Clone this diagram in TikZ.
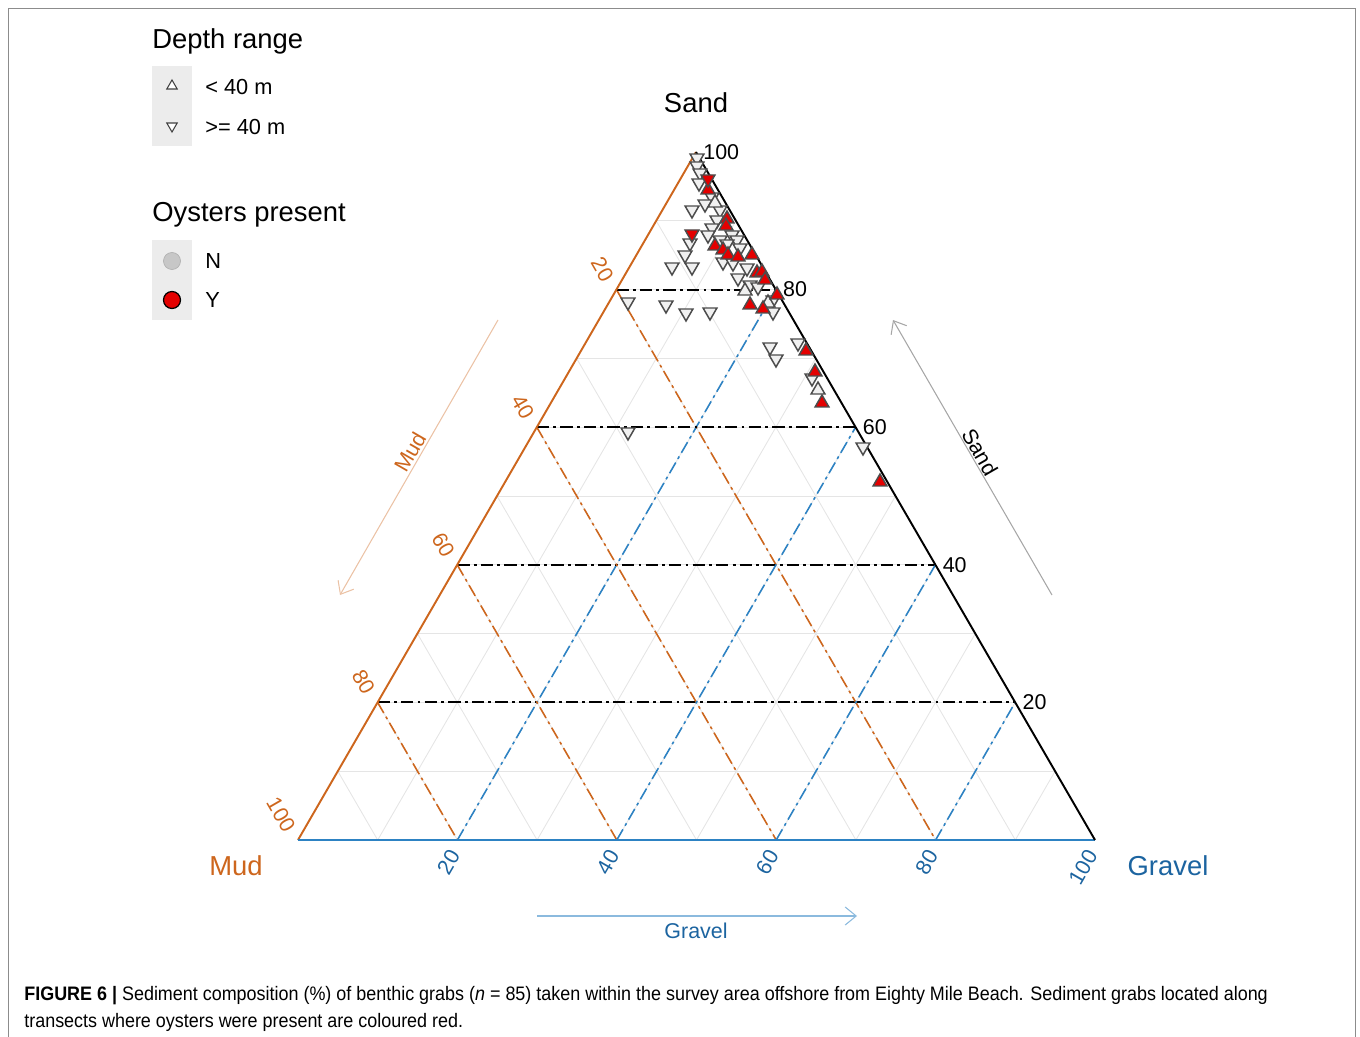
\documentclass[tikz,border=0pt]{standalone}
\usepackage{fontspec}
\setmainfont{Liberation Sans}
\newfontfamily\capfont[FakeStretch=0.92]{Liberation Sans}
\usetikzlibrary{shapes.geometric,arrows.meta}
\definecolor{mudcol}{RGB}{205,102,29}
\definecolor{gravcol}{RGB}{28,100,160}
\definecolor{gravline}{RGB}{45,130,195}
\definecolor{keybg}{RGB}{236,236,236}
\definecolor{ptred}{RGB}{228,0,0}
\begin{document}
\begin{tikzpicture}[x=0.02cm, y=-0.02cm,
    title/.style={font=\fontsize{15.6}{18}\selectfont, inner sep=0pt},
    item/.style={font=\fontsize{12.4}{14}\selectfont, inner sep=0pt, anchor=west},
    tick/.style={font=\fontsize{12.2}{14}\selectfont, inner sep=1pt},
    grid/.style={black!10, line width=0.5pt},
    dashdot/.style={line width=1.1pt, dash pattern=on 7pt off 2.4pt on 1.6pt off 2.4pt},
    arr/.style={-{Straight Barb[length=0.22cm, width=0.36cm]}, line width=0.6pt},
    mk/.style={regular polygon, regular polygon sides=3, minimum size=0.32cm,
        inner sep=0pt, line width=0.85pt, draw=black!70, fill=black!6},
    up/.style={mk},
    dn/.style={mk, shape border rotate=180},
    yes/.style={fill=ptred, draw=black!70},
    key/.style={regular polygon, regular polygon sides=3, minimum size=0.24cm,
        inner sep=0pt, line width=0.6pt, draw=black!75, fill=white}
]
    \useasboundingbox (0,0) rectangle (1360,1037);
    \draw[black!45, line width=0.5pt] (8,1037) -- (8,8) -- (1355,8) -- (1355,1037);

    % Corners of the triangle
    \coordinate (M) at (298,840);
    \coordinate (G) at (1095,840);
    \coordinate (S) at (696,152);

    % Light grid every 10 %
    \foreach \p [evaluate=\p as \a using \p/100, evaluate=\p as \b using 1-\p/100] in {10,20,...,90} {
        \draw[grid] (barycentric cs:M=\b,S=\a) -- (barycentric cs:G=\b,S=\a);
        \draw[grid] (barycentric cs:M=\a,S=\b) -- (barycentric cs:M=\a,G=\b);
        \draw[grid] (barycentric cs:G=\a,M=\b) -- (barycentric cs:G=\a,S=\b);
    }

    % Major lines every 20 %
    \foreach \p [evaluate=\p as \a using \p/100, evaluate=\p as \b using 1-\p/100] in {20,40,60,80} {
        \draw[dashdot, black] (barycentric cs:M=\b,S=\a) -- (barycentric cs:G=\b,S=\a);
        \draw[dashdot, mudcol, line width=0.9pt] (barycentric cs:M=\a,S=\b) -- (barycentric cs:M=\a,G=\b);
        \draw[dashdot, gravline, line width=0.9pt] (barycentric cs:G=\a,M=\b) -- (barycentric cs:G=\a,S=\b);
    }

    % Edges
    \draw[mudcol, line width=1.1pt] (M) -- (S);
    \draw[gravline, line width=1.1pt] (M) -- (G);
    \draw[black, line width=1.1pt] (G) -- (S);

    % Tick labels
    \foreach \p [evaluate=\p as \a using \p/100, evaluate=\p as \b using 1-\p/100] in {20,40,60,80,100} {
        \path (barycentric cs:G=\b,S=\a) node[tick, right=3pt] (sl\p) {\p};
        \path (barycentric cs:M=\a,S=\b) ++(-7,-8) node[tick, mudcol, rotate=-60, anchor=east] (ml\p) {\p};
        \path (barycentric cs:M=\b,G=\a) ++(-2,10) node[tick, gravcol, rotate=60, anchor=east] (gl\p) {\p};
    }

    % Corner titles
    \node[title] (tSand) at (696,103) {Sand};
    \node[title, mudcol] (tMud) at (236,866) {Mud};
    \node[title, gravcol] (tGravel) at (1168,866) {Gravel};

    % Direction arrows
    \coordinate (mudA) at (498,320);
    \coordinate (mudB) at (340,595);
    \draw[arr, mudcol!40] (mudA) -- (mudB);
    \node[tick, mudcol, rotate=60] (aMud) at (410,452) {Mud};
    \coordinate (sandA) at (1052,595);
    \coordinate (sandB) at (893,320);
    \draw[arr, black!35] (sandA) -- (sandB);
    \node[tick, rotate=-60] (aSand) at (980,452) {Sand};
    \coordinate (gravA) at (537,916);
    \coordinate (gravB) at (857,916);
    \draw[arr, gravline!55] (gravA) -- (gravB);
    \node[tick, gravcol] (aGravel) at (696,931) {Gravel};

    % Samples, no oysters
    \foreach \x/\y [count=\i] in {697/158, 697/166, 700/173, 699/183, 712/197, 692/210,
            720/210, 717/220, 712/228, 708/235, 732/235, 690/243, 720/240, 737/240,
            740/248, 685/255, 672/267, 692/267, 723/262, 733/263, 747/268, 738/278,
            750/285, 758/287, 773/300, 628/302, 666/305, 686/313, 710/312, 773/312,
            770/347, 776/359, 798/343, 812/378, 628/432, 863/447, 705/204, 727/244}
        \node[dn] (n\i) at (\x,\y) {};
    \foreach \x/\y [count=\i] in {818/390, 745/291, 768/303, 715/203}
        \node[up] (u\i) at (\x,\y) {};

    % Samples, oysters
    \foreach \x/\y [count=\i] in {708/190, 727/219, 726/226, 715/246, 723/250, 728/255,
            738/257, 752/255, 757/273, 762/272, 765/280, 777/295, 750/305, 763/309,
            806/351, 815/372, 822/403, 880/482}
        \node[up, yes] (y\i) at (\x,\y) {};
    \foreach \x/\y [count=\i] in {708/179, 692/234}
        \node[dn, yes] (yd\i) at (\x,\y) {};

    % Legend
    \node[title, anchor=west] (lDepth) at (152,41) {Depth range};
    \fill[keybg] (152,66) rectangle (192,146);
    \node[key] (kLo) at (172,86) {};
    \node[key, shape border rotate=180] (kHi) at (172,126) {};
    \node[item] (tLo) at (205,87) {< 40 m};
    \node[item] (tHi) at (205,127) {>= 40 m};

    \node[title, anchor=west] (lOyst) at (152,215) {Oysters present};
    \fill[keybg] (152,240) rectangle (192,320);
    \node[circle, minimum size=0.34cm, inner sep=0pt, fill=black!22, draw=black!30] (kN) at (172,261) {};
    \node[circle, minimum size=0.34cm, inner sep=0pt, fill=ptred, draw=black, line width=0.7pt] (kY) at (172,300) {};
    \node[item] (tN) at (205,261) {N};
    \node[item] (tY) at (205,300) {Y};

    % Caption
    \node[anchor=base west, inner sep=0pt, font=\capfont\fontsize{11.1}{15}\selectfont] (cap1) at (24,1000)
        {\textbf{FIGURE 6 |} Sediment composition (\%) of benthic grabs (\textit{n} = 85) taken within the survey area offshore from Eighty Mile Beach. Sediment grabs located along};
    \node[anchor=base west, inner sep=0pt, font=\capfont\fontsize{11.1}{15}\selectfont] (cap2) at (24,1027)
        {transects where oysters were present are coloured red.};
\end{tikzpicture}
\end{document}
